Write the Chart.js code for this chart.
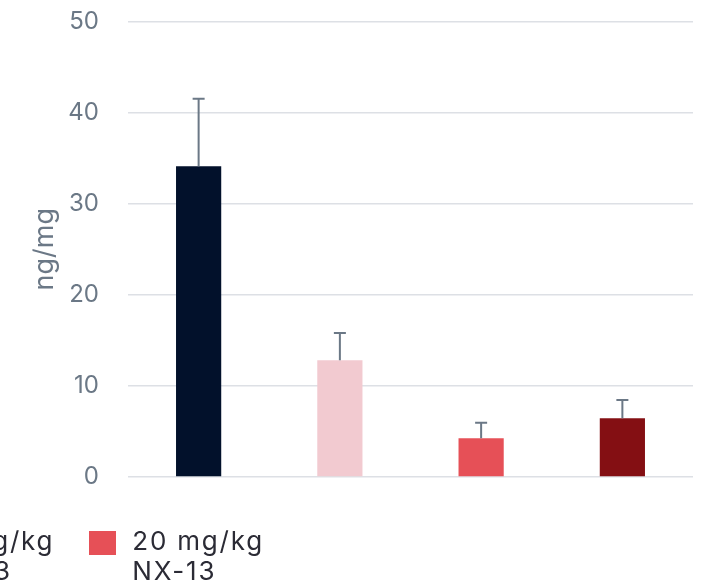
<!DOCTYPE html>
<html>
<head>
<meta charset="utf-8">
<script src="https://cdn.jsdelivr.net/npm/chart.js@4.4.1/dist/chart.umd.min.js"></script>
<style>
  html, body { margin: 0; padding: 0; background: #fff; overflow: hidden; }
  #wrap { position: relative; width: 702px; height: 588px; overflow: hidden; }
  #chart { position: absolute; left: 0; top: -22px; }
  #legend { position: absolute; top: 526px; right: 438px; font-family: Inter, sans-serif; font-size: 26px; letter-spacing: 1.8px; color: #2b2b35; }
  #legend .row { display: flex; justify-content: flex-end; gap: 35px; white-space: nowrap; }
  #legend .item { display: flex; align-items: flex-start; }
  #legend .box { width: 27px; height: 24px; margin: 5px 16px 0 0; flex: none; }
  #legend .txt { line-height: 30px; }
</style>
</head>
<body>
<div id="wrap">
  <canvas id="chart" width="702" height="610"></canvas>
  <div id="legend"></div>
</div>
<script>
( function () {
    "use strict";

    var groups = ['Vehicle', '10 mg/kg NX-13', '20 mg/kg NX-13', '40 mg/kg NX-13'];
    var values = [34.1, 12.8, 4.25, 6.45];
    var errors = [7.4, 3.0, 1.7, 2.0];
    var colors = ['#02112b', '#f2cad0', '#e65057', '#840f13'];
    var yTicks = [0, 10, 20, 30, 40, 50];

    var tickColor = '#6b7886';

    // error bars drawn on top of the bars, through the y scale
    var errorBars = {
        id: 'errorBars',
        afterDatasetsDraw: function (chart) {
            var ctx = chart.ctx;
            var y = chart.scales.y;
            var meta = chart.getDatasetMeta(0);
            ctx.save();
            ctx.strokeStyle = tickColor;
            ctx.lineWidth = 2;
            meta.data.forEach(function (bar, i) {
                var top = y.getPixelForValue(values[i] + errors[i]);
                var base = y.getPixelForValue(values[i]);
                ctx.beginPath();
                ctx.moveTo(bar.x, base);
                ctx.lineTo(bar.x, top);
                ctx.moveTo(bar.x - 6, top);
                ctx.lineTo(bar.x + 6, top);
                ctx.stroke();
            });
            ctx.restore();
        }
    };

    var ctx = document.getElementById('chart').getContext('2d');
    new Chart(ctx, {
        type: 'bar',
        data: {
            labels: groups,
            datasets: [{
                data: values,
                backgroundColor: colors,
                borderWidth: 0,
                categoryPercentage: 1,
                barPercentage: 0.32
            }]
        },
        options: {
            responsive: false,
            animation: false,
            layout: { padding: { top: 0, right: 9, bottom: 111, left: 0 } },
            plugins: { legend: { display: false }, tooltip: { enabled: false } },
            scales: {
                x: { display: false },
                y: {
                    min: 0,
                    max: 50,
                    afterBuildTicks: function (axis) {
                        axis.ticks = yTicks.map(function (v) { return { value: v }; });
                    },
                    afterFit: function (axis) { axis.width = 128; },
                    border: { display: false },
                    grid: { color: '#dde0e5', lineWidth: 1.5, drawTicks: false },
                    ticks: { color: tickColor, padding: 29, font: { family: 'Inter', size: 24 } },
                    title: { display: true, text: 'ng/mg', color: tickColor, padding: 29, font: { family: 'Inter', size: 27 } }
                }
            }
        },
        plugins: [errorBars]
    });

    // html legend: three per row, two text lines per item
    var legend = document.getElementById('legend');
    var row;
    groups.forEach(function (g, i) {
        if (i % 3 === 0) {
            row = document.createElement('div');
            row.className = 'row';
            legend.appendChild(row);
        }
        var parts = g === 'Vehicle' ? ['Vehicle', '\u00a0'] : [g.replace(' NX-13', ''), 'NX-13'];
        var item = document.createElement('div');
        item.className = 'item';
        item.innerHTML = '<span class="box" style="background:' + colors[i] + '"></span>' +
            '<span class="txt">' + parts[0] + '<br>' + parts[1] + '</span>';
        row.appendChild(item);
    });
} () );
</script>
</body>
</html>
